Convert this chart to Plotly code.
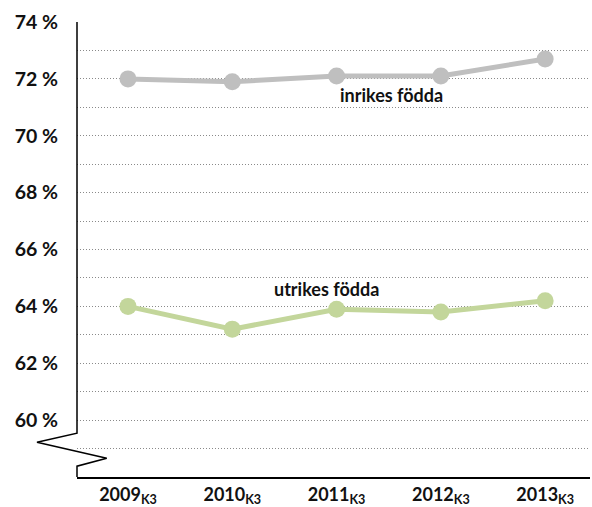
import plotly.graph_objects as go

years = ["2009", "2010", "2011", "2012", "2013"]
x_labels = [y + "<sub>K3</sub>" for y in years]
inrikes = [72.0, 71.9, 72.1, 72.1, 72.7]
utrikes = [64.0, 63.2, 63.9, 63.8, 64.2]
y_ticks = [60, 62, 64, 66, 68, 70, 72, 74]
y_tick_text = [f"{v} %" for v in y_ticks]

FONT = "Lato"
xs = list(range(len(years)))

fig = go.Figure()
fig.add_trace(go.Scatter(x=xs, y=inrikes, mode="lines+markers",
                         line=dict(color="#BFBFBF", width=5),
                         marker=dict(color="#BFBFBF", size=17),
                         showlegend=False, hoverinfo="skip"))
fig.add_trace(go.Scatter(x=xs, y=utrikes, mode="lines+markers",
                         line=dict(color="#C3D69B", width=5),
                         marker=dict(color="#C3D69B", size=17),
                         showlegend=False, hoverinfo="skip"))

fig.add_annotation(x=2.53, y=71.45, text="<b>inrikes födda</b>", showarrow=False,
                   font=dict(family=FONT, size=18, color="#111"))
fig.add_annotation(x=1.9, y=64.6, text="<b>utrikes födda</b>", showarrow=False,
                   font=dict(family=FONT, size=18, color="#111"))

# y-axis line with break (zigzag)
pts = [(0, 74), (0, 59.54), (-0.078, 59.22), (0.058, 58.66), (0, 58.38), (0, 58)]
path = "M " + " L ".join(f"{px},{py}" for px, py in pts)
fig.add_shape(type="path", path=path, xref="paper", yref="y",
              line=dict(color="black", width=1.5))

GRID = dict(gridcolor="#8a8a8a", griddash="1px,2px", gridwidth=1)

fig.update_layout(
    width=592, height=507,
    margin=dict(l=77, r=2, t=22, b=30),
    plot_bgcolor="white", paper_bgcolor="white",
    font=dict(family=FONT, size=18, color="#111"),
    xaxis=dict(range=[-0.489, 4.43], tickvals=xs, ticktext=[f"<b>{t}</b>" for t in x_labels],
               showgrid=False, zeroline=False, showline=True, linecolor="black", linewidth=2,
               ticks="", tickfont=dict(family=FONT, size=18, color="#111"),
               ticklabelstandoff=0, automargin=False),
    yaxis=dict(range=[58, 74], tickvals=y_ticks, ticktext=[f"<b>{t}</b>" for t in y_tick_text],
               showgrid=True, **GRID,
               zeroline=False, showline=False, ticks="",
               tickfont=dict(family=FONT, size=19.5, color="#111"),
               ticklabelstandoff=18, automargin=False,
               minor=dict(dtick=1, tick0=59, showgrid=True, **GRID)),
)

fig.write_html("out.html", config={"displayModeBar": False},
               post_script="document.body.style.margin='0';")
